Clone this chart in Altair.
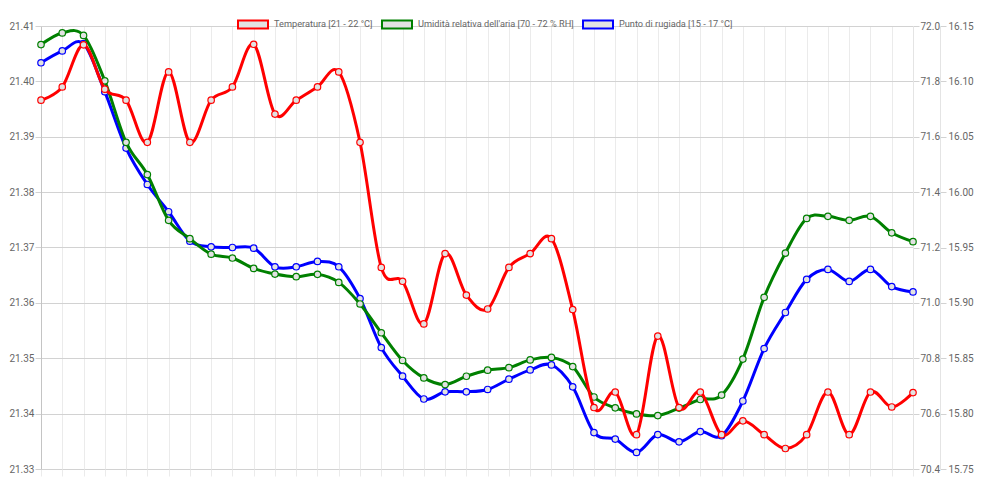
import altair as alt
import pandas as pd

# ---- data ----
series_names = [
    "Temperatura [21 - 22 °C]",
    "Umidità relativa dell'aria [70 - 72 % RH]",
    "Punto di rugiada [15 - 17 °C]",
]
series_colors = ["#ff0000", "#008000", "#0000ff"]

temperatura = [21.3966, 21.3990, 21.4066, 21.3986, 21.3966, 21.3890, 21.4017, 21.3890,
               21.3966, 21.3990, 21.4067, 21.3941, 21.3966, 21.3990, 21.4017, 21.3890,
               21.3664, 21.3639, 21.3562, 21.3689, 21.3614, 21.3589, 21.3664, 21.3689,
               21.3716, 21.3588, 21.3411, 21.3439, 21.3362, 21.3540, 21.3411, 21.3439,
               21.3362, 21.3387, 21.3362, 21.3337, 21.3362, 21.3439, 21.3362, 21.3439,
               21.3412, 21.3438]
umidita = [71.933, 71.975, 71.966, 71.802, 71.580, 71.4635, 71.298, 71.232, 71.176, 71.162,
           71.1245, 71.104, 71.0945, 71.103, 71.074, 70.996, 70.892, 70.792, 70.729, 70.705,
           70.735, 70.757, 70.766, 70.794, 70.803, 70.770, 70.660, 70.621, 70.599, 70.593,
           70.620, 70.651, 70.667, 70.797, 71.020, 71.180, 71.305, 71.3125, 71.298, 71.3125,
           71.253, 71.221]
rugiada = [16.1168, 16.1275, 16.1341, 16.0907, 16.0398, 16.0069, 15.9823, 15.9557, 15.9506,
           15.9500, 15.9494, 15.9326, 15.9326, 15.9374, 15.9326, 15.9039, 15.8596, 15.8338,
           15.8132, 15.8197, 15.8197, 15.8218, 15.8311, 15.8395, 15.8440, 15.8242, 15.7829,
           15.7770, 15.7650, 15.7811, 15.7745, 15.7838, 15.7800, 15.8114, 15.8587, 15.8913,
           15.9212, 15.9302, 15.9194, 15.9302, 15.9147, 15.9099]

temp_ticks = [21.33, 21.34, 21.35, 21.36, 21.37, 21.38, 21.39, 21.40, 21.41]
hum_ticks = [70.4, 70.6, 70.8, 71.0, 71.2, 71.4, 71.6, 71.8, 72.0]
dew_ticks = [15.75, 15.80, 15.85, 15.90, 15.95, 16.00, 16.05, 16.10, 16.15]

rows = []
for name, vals in zip(series_names, [temperatura, umidita, rugiada]):
    for i, v in enumerate(vals):
        rows.append({"i": i, "v": v, "serie": name})
df = pd.DataFrame(rows)

FONT = "Roboto"
LABEL = "#666666"
n = len(temperatura)

x_enc = alt.X(
    "i:Q",
    scale=alt.Scale(domain=[0, n - 1], nice=False, zero=False),
    axis=alt.Axis(values=list(range(n)), labels=False, grid=True, gridColor="#ebebeb",
                  tickColor="#ebebeb", tickSize=7, domain=False, title=None),
)

color_enc = alt.Color(
    "serie:N",
    scale=alt.Scale(domain=series_names, range=series_colors),
    legend=alt.Legend(
        orient="none", legendX=196, legendY=-18, direction="horizontal", title=None,
        symbolType="M-1,-0.2667H1V0.2667H-1Z", symbolSize=900, symbolStrokeWidth=2,
        symbolFillColor="#e2e2e2", symbolOpacity=1, labelLimit=0,
        labelFont=FONT, labelFontSize=9.2, labelColor=LABEL, labelOffset=5,
        columnPadding=5, padding=0,
    ),
)

base = alt.Chart(df)


def series_layer(name, ticks, fmt, domain, axis_kw):
    return base.transform_filter(alt.datum.serie == name).mark_line(
        interpolate="cardinal", strokeWidth=3,
        point=alt.OverlayMarkDef(filled=False, fill="#e2e2e2", size=42, strokeWidth=1.2),
    ).encode(
        x=x_enc,
        y=alt.Y("v:Q", scale=alt.Scale(domain=domain, nice=False, zero=False),
                axis=alt.Axis(values=ticks, format=fmt, title=None, labelFont=FONT,
                              labelFontSize=10, labelColor=LABEL, tickSize=6, **axis_kw)),
        color=color_enc,
    )


temp_layer = series_layer(
    series_names[0], temp_ticks, ".2f", [21.33, 21.41],
    dict(orient="left", grid=True, gridColor="#d2d2d2", domain=True, domainColor="#c4c4c4",
         tickColor="#d2d2d2", labelPadding=1),
)
hum_layer = series_layer(
    series_names[1], hum_ticks, ".1f", [70.4, 72.0],
    dict(orient="right", grid=False, domain=True, domainColor="#e4e4e4",
         tickColor="#d2d2d2", labelPadding=1),
)
dew_layer = series_layer(
    series_names[2], dew_ticks, ".2f", [15.75, 16.15],
    dict(orient="right", offset=27, grid=False, domain=True, domainColor="#e4e4e4",
         tickColor="#d2d2d2", labelPadding=2),
)

chart = alt.layer(dew_layer, hum_layer, temp_layer).resolve_scale(
    y="independent"
).properties(
    width=872, height=443, padding=0,
).configure_view(stroke=None)

chart.save("out.html", embed_options={"renderer": "svg", "actions": False})
